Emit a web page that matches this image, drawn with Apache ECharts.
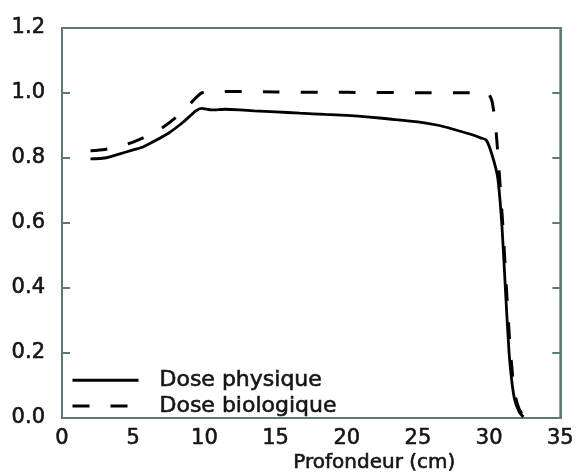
<!DOCTYPE html>
<html>
<head>
<meta charset="utf-8">
<script src="https://cdn.jsdelivr.net/npm/echarts@6/dist/echarts.min.js"></script>
<style>html,body{margin:0;padding:0;background:#fff}#c{width:577px;height:475px}</style>
</head>
<body>
<div id="c"></div>
<script>
var seriesNames = ['Dose physique', 'Dose biologique'];
var xTicks = [0, 5, 10, 15, 20, 25, 30, 35];
var yTicks = ['0.0', '0.2', '0.4', '0.6', '0.8', '1.0', '1.2'];
var xAxisTitle = 'Profondeur (cm)';

var physX = [2.0, 3.0, 4.0, 5.0, 5.7, 6.5, 7.5, 8.5, 9.4, 9.8, 10.5, 11.5, 12.5, 13.5, 15.0, 16.7, 18.5, 20.0, 21.6, 23.0, 25.0, 26.5, 27.6, 28.7, 29.4, 29.8, 30.2, 30.6, 30.9, 31.15, 31.4, 31.6, 31.8, 32.1, 32.4];
var physY = [0.797, 0.800, 0.812, 0.825, 0.834, 0.852, 0.877, 0.910, 0.945, 0.953, 0.948, 0.950, 0.948, 0.945, 0.942, 0.938, 0.934, 0.931, 0.926, 0.920, 0.911, 0.900, 0.887, 0.873, 0.862, 0.855, 0.810, 0.740, 0.590, 0.390, 0.200, 0.110, 0.055, 0.020, 0.003];

var bioX = [2.0, 3.0, 4.0, 5.0, 6.0, 7.0, 8.0, 8.8, 9.4, 9.8, 10.5, 12.0, 15.0, 20.0, 25.0, 29.0, 29.9, 30.2, 30.45, 30.7, 30.95, 31.2, 31.45, 31.65, 31.85, 32.1, 32.4];
var bioY = [0.822, 0.826, 0.836, 0.849, 0.868, 0.892, 0.925, 0.958, 0.985, 1.000, 1.003, 1.005, 1.003, 1.002, 1.001, 1.001, 1.000, 0.975, 0.900, 0.760, 0.600, 0.410, 0.230, 0.130, 0.065, 0.028, 0.006];

function pairs(xs, ys) { return xs.map(function (x, i) { return [x, ys[i]]; }); }

var axisColor = '#5e7a76';
var textColor = '#151515';
var font = 'DejaVu Sans';
var thick = {textBorderColor: '#151515', textBorderWidth: 0.6};

var chart = echarts.init(document.getElementById('c'), null, {renderer: 'canvas'});
chart.setOption({
  animation: false,
  backgroundColor: '#fff',
  grid: {left: 62, right: 15, top: 28, bottom: 57, containLabel: false,
         show: true, borderColor: axisColor, borderWidth: 2},
  legend: {
    orient: 'vertical', left: 66, top: 364,
    itemWidth: 66, itemHeight: 22, itemGap: 3,
    data: seriesNames,
    itemStyle: {opacity: 0},
    lineStyle: {width: 3},
    textStyle: Object.assign({fontFamily: font, fontSize: 22, color: textColor, padding: [0, 0, 0, 16]}, thick)
  },
  xAxis: {
    type: 'value', min: 0, max: 35, interval: 5,
    axisLine: {show: true, lineStyle: {color: axisColor, width: 2}},
    axisTick: {show: false},
    splitLine: {show: false},
    axisLabel: Object.assign({fontFamily: font, fontSize: 21, color: textColor, margin: 10,
      formatter: function (v) { return xTicks.indexOf(v) >= 0 ? String(v) : ''; }}, thick)
  },
  yAxis: [{
    type: 'value', min: 0, max: 1.2, interval: 0.2,
    axisLine: {show: true, lineStyle: {color: axisColor, width: 2}},
    axisTick: {show: true, inside: true, length: 8, lineStyle: {color: axisColor, width: 2}},
    splitLine: {show: false},
    axisLabel: Object.assign({fontFamily: font, fontSize: 21, color: textColor, margin: 17,
      formatter: function (v) { return yTicks[Math.round(v / 0.2)]; }}, thick)
  }, {
    type: 'value', min: 0, max: 1.2, interval: 0.2, position: 'right',
    axisLine: {show: true, lineStyle: {color: axisColor, width: 2}},
    axisTick: {show: true, inside: true, length: 8, lineStyle: {color: axisColor, width: 2}},
    splitLine: {show: false},
    axisLabel: {show: false}
  }],
  graphic: [{
    type: 'text', left: 293, top: 452,
    style: {text: xAxisTitle, font: '20px "DejaVu Sans"', fill: textColor, stroke: textColor, lineWidth: 0.6}
  }],
  series: [{
    name: seriesNames[0], type: 'line', data: pairs(physX, physY),
    showSymbol: false, symbol: 'none', smooth: 0.2,
    lineStyle: {color: '#000', width: 2.8},
    itemStyle: {color: '#000'}, z: 3
  }, {
    name: seriesNames[1], type: 'line', data: pairs(bioX, bioY),
    showSymbol: false, symbol: 'none', smooth: 0.2,
    lineStyle: {color: '#000', width: 3, type: [17, 21]},
    itemStyle: {color: '#000'}, z: 2
  }]
});
</script>
</body>
</html>
